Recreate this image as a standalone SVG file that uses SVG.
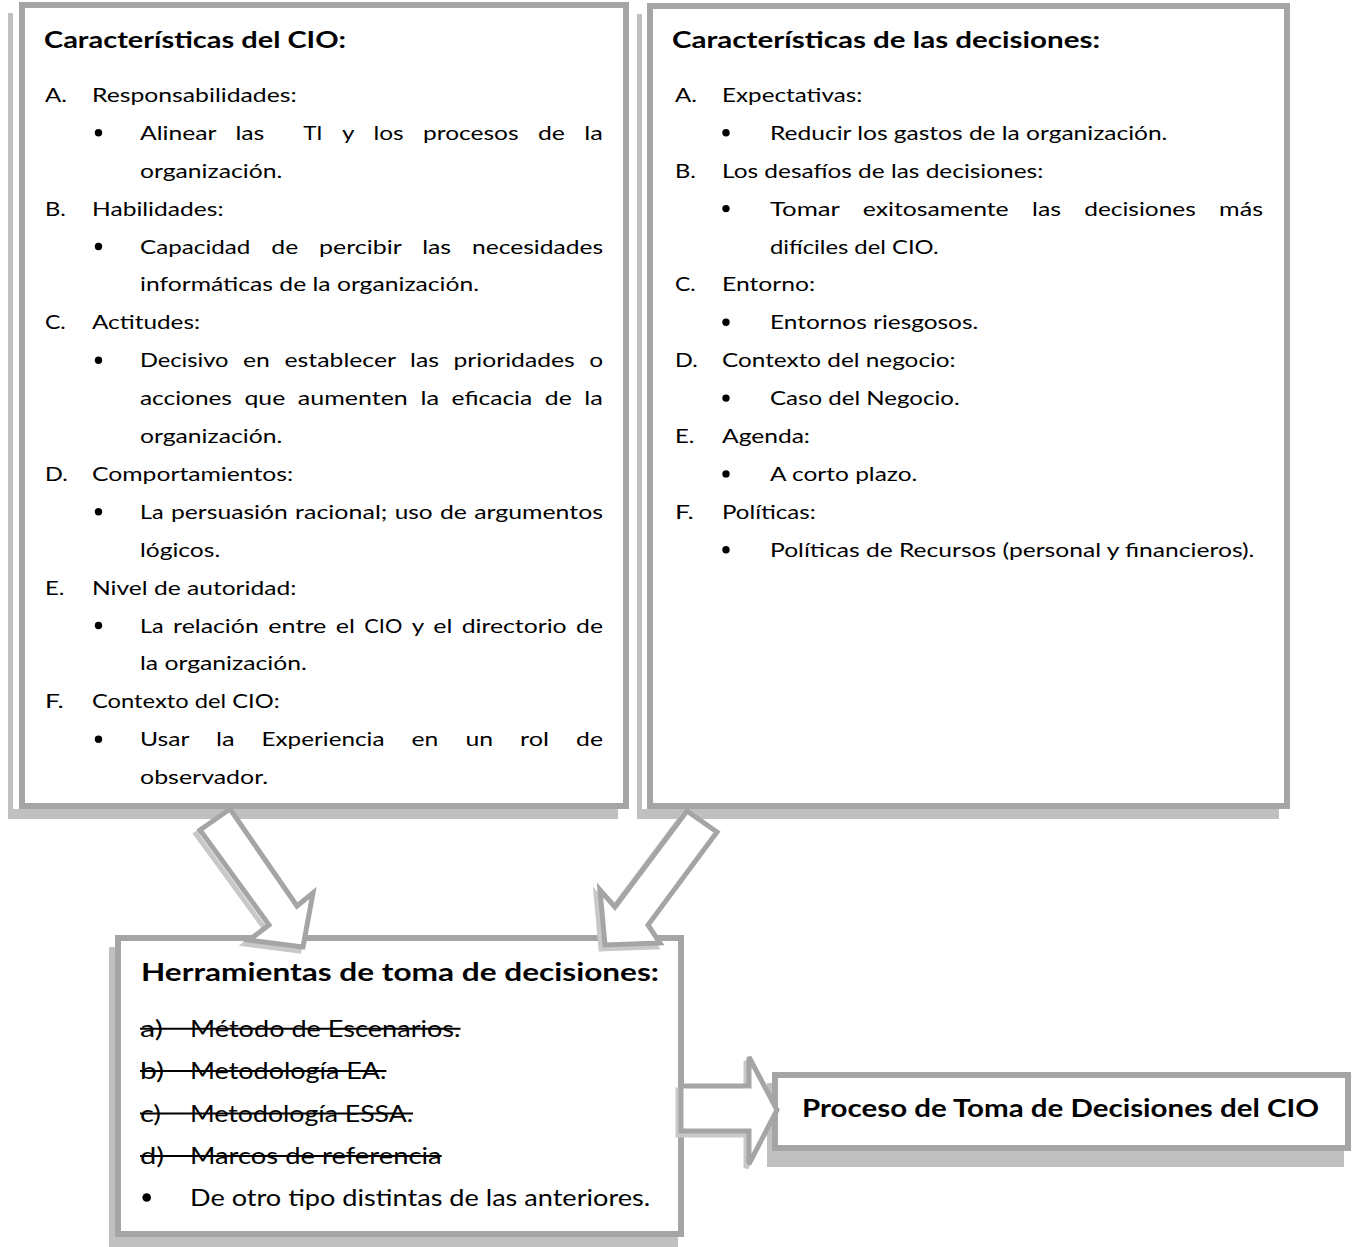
<svg xmlns="http://www.w3.org/2000/svg" width="1356" height="1247" viewBox="0 0 1356 1247">
<style>
.t{font-family:Lato,'Liberation Sans',sans-serif;font-size:20px;fill:#000}
.h{font-weight:bold;font-size:22.5px}
.l{font-size:22.5px}
.lh{font-weight:bold;font-size:24px}
.frame{fill:#fff;stroke:#a5a5a5;stroke-width:6}
.shadow{fill:#c0c0c0}
.arrow{fill:#fff;stroke:#a5a5a5;stroke-width:5;stroke-linejoin:miter}
.ashadow{fill:none;stroke:#c8c8c8;stroke-width:5;stroke-linejoin:miter}
.strike{stroke:#000;stroke-width:2}
.dot{fill:#000}
</style>
<rect width="1356" height="1247" fill="#fff"/>

<g id="node-cio">
<path class="shadow" d="M8 13H13V809H618V819H8Z"/>
<rect class="frame" x="22" y="5" width="604" height="801"/>
<text class="t h" x="44" y="48.3" textLength="302" lengthAdjust="spacingAndGlyphs">Características del CIO:</text>
<text class="t" y="101.9"><tspan x="45" textLength="21.9" lengthAdjust="spacingAndGlyphs">A.</tspan> <tspan x="92" textLength="204.6" lengthAdjust="spacingAndGlyphs">Responsabilidades:</tspan></text>
<circle class="dot" cx="98.5" cy="132.8" r="3.7"/>
<text class="t" y="139.8"><tspan x="140" textLength="75.96" lengthAdjust="spacingAndGlyphs">Alinear</tspan> <tspan x="235.4" textLength="28.92" lengthAdjust="spacingAndGlyphs">las</tspan>  <tspan x="303.2" textLength="19.44" lengthAdjust="spacingAndGlyphs">TI</tspan> <tspan x="342.1" textLength="11.9" lengthAdjust="spacingAndGlyphs">y</tspan> <tspan x="373.4" textLength="30.19" lengthAdjust="spacingAndGlyphs">los</tspan> <tspan x="423" textLength="95.5" lengthAdjust="spacingAndGlyphs">procesos</tspan> <tspan x="538" textLength="26.9" lengthAdjust="spacingAndGlyphs">de</tspan> <tspan x="584.3" textLength="18.63" lengthAdjust="spacingAndGlyphs">la</tspan></text>
<text class="t" x="140" y="177.7" textLength="142.3" lengthAdjust="spacingAndGlyphs">organización.</text>
<text class="t" y="215.6"><tspan x="45" textLength="20.9" lengthAdjust="spacingAndGlyphs">B.</tspan> <tspan x="92" textLength="131.6" lengthAdjust="spacingAndGlyphs">Habilidades:</tspan></text>
<circle class="dot" cx="98.5" cy="246.5" r="3.7"/>
<text class="t" y="253.5"><tspan x="140" textLength="110.41" lengthAdjust="spacingAndGlyphs">Capacidad</tspan> <tspan x="271.3" textLength="26.9" lengthAdjust="spacingAndGlyphs">de</tspan> <tspan x="319.1" textLength="82.25" lengthAdjust="spacingAndGlyphs">percibir</tspan> <tspan x="422.2" textLength="28.92" lengthAdjust="spacingAndGlyphs">las</tspan> <tspan x="472" textLength="131.04" lengthAdjust="spacingAndGlyphs">necesidades</tspan></text>
<text class="t" x="140" y="291.4" textLength="339.1" lengthAdjust="spacingAndGlyphs">informáticas de la organización.</text>
<text class="t" y="329.3"><tspan x="45" textLength="20.7" lengthAdjust="spacingAndGlyphs">C.</tspan> <tspan x="92" textLength="108" lengthAdjust="spacingAndGlyphs">Actitudes:</tspan></text>
<circle class="dot" cx="98.5" cy="360.2" r="3.7"/>
<text class="t" y="367.2"><tspan x="140" textLength="88.49" lengthAdjust="spacingAndGlyphs">Decisivo</tspan> <tspan x="243" textLength="26.9" lengthAdjust="spacingAndGlyphs">en</tspan> <tspan x="284.5" textLength="111.1" lengthAdjust="spacingAndGlyphs">establecer</tspan> <tspan x="410.1" textLength="28.92" lengthAdjust="spacingAndGlyphs">las</tspan> <tspan x="453.5" textLength="121.16" lengthAdjust="spacingAndGlyphs">prioridades</tspan> <tspan x="589.2" textLength="13.87" lengthAdjust="spacingAndGlyphs">o</tspan></text>
<text class="t" y="405.1"><tspan x="140" textLength="91.94" lengthAdjust="spacingAndGlyphs">acciones</tspan> <tspan x="244.5" textLength="40.72" lengthAdjust="spacingAndGlyphs">que</tspan> <tspan x="297.8" textLength="110.04" lengthAdjust="spacingAndGlyphs">aumenten</tspan> <tspan x="420.4" textLength="18.63" lengthAdjust="spacingAndGlyphs">la</tspan> <tspan x="451.6" textLength="80.63" lengthAdjust="spacingAndGlyphs">eficacia</tspan> <tspan x="544.8" textLength="26.9" lengthAdjust="spacingAndGlyphs">de</tspan> <tspan x="584.3" textLength="18.63" lengthAdjust="spacingAndGlyphs">la</tspan></text>
<text class="t" x="140" y="443" textLength="142.3" lengthAdjust="spacingAndGlyphs">organización.</text>
<text class="t" y="480.9"><tspan x="45" textLength="22.8" lengthAdjust="spacingAndGlyphs">D.</tspan> <tspan x="92" textLength="201.1" lengthAdjust="spacingAndGlyphs">Comportamientos:</tspan></text>
<circle class="dot" cx="98.5" cy="511.8" r="3.7"/>
<text class="t" y="518.8"><tspan x="140" textLength="23.65" lengthAdjust="spacingAndGlyphs">La</tspan> <tspan x="171" textLength="116.76" lengthAdjust="spacingAndGlyphs">persuasión</tspan> <tspan x="295.1" textLength="92.28" lengthAdjust="spacingAndGlyphs">racional;</tspan> <tspan x="394.7" textLength="37.97" lengthAdjust="spacingAndGlyphs">uso</tspan> <tspan x="440" textLength="26.9" lengthAdjust="spacingAndGlyphs">de</tspan> <tspan x="474.2" textLength="128.84" lengthAdjust="spacingAndGlyphs">argumentos</tspan></text>
<text class="t" x="140" y="556.7" textLength="80.2" lengthAdjust="spacingAndGlyphs">lógicos.</text>
<text class="t" y="594.6"><tspan x="45" textLength="19.5" lengthAdjust="spacingAndGlyphs">E.</tspan> <tspan x="92" textLength="204.4" lengthAdjust="spacingAndGlyphs">Nivel de autoridad:</tspan></text>
<circle class="dot" cx="98.5" cy="625.5" r="3.7"/>
<text class="t" y="632.5"><tspan x="140" textLength="23.65" lengthAdjust="spacingAndGlyphs">La</tspan> <tspan x="173.1" textLength="85.73" lengthAdjust="spacingAndGlyphs">relación</tspan> <tspan x="268.3" textLength="57.97" lengthAdjust="spacingAndGlyphs">entre</tspan> <tspan x="335.7" textLength="19.12" lengthAdjust="spacingAndGlyphs">el</tspan> <tspan x="364.3" textLength="38.06" lengthAdjust="spacingAndGlyphs">CIO</tspan> <tspan x="411.8" textLength="11.9" lengthAdjust="spacingAndGlyphs">y</tspan> <tspan x="433.2" textLength="19.12" lengthAdjust="spacingAndGlyphs">el</tspan> <tspan x="461.7" textLength="104.98" lengthAdjust="spacingAndGlyphs">directorio</tspan> <tspan x="576.1" textLength="26.9" lengthAdjust="spacingAndGlyphs">de</tspan></text>
<text class="t" x="140" y="670.4" textLength="166.9" lengthAdjust="spacingAndGlyphs">la organización.</text>
<text class="t" y="708.3"><tspan x="45" textLength="18.7" lengthAdjust="spacingAndGlyphs">F.</tspan> <tspan x="92" textLength="187.6" lengthAdjust="spacingAndGlyphs">Contexto del CIO:</tspan></text>
<circle class="dot" cx="98.5" cy="739.2" r="3.7"/>
<text class="t" y="746.2"><tspan x="140" textLength="48.93" lengthAdjust="spacingAndGlyphs">Usar</tspan> <tspan x="215.9" textLength="18.63" lengthAdjust="spacingAndGlyphs">la</tspan> <tspan x="261.5" textLength="123" lengthAdjust="spacingAndGlyphs">Experiencia</tspan> <tspan x="411.5" textLength="26.9" lengthAdjust="spacingAndGlyphs">en</tspan> <tspan x="465.4" textLength="27.64" lengthAdjust="spacingAndGlyphs">un</tspan> <tspan x="520" textLength="29.07" lengthAdjust="spacingAndGlyphs">rol</tspan> <tspan x="576.1" textLength="26.9" lengthAdjust="spacingAndGlyphs">de</tspan></text>
<text class="t" x="140" y="784.1" textLength="128.2" lengthAdjust="spacingAndGlyphs">observador.</text>
</g>

<g id="node-decisiones">
<path class="shadow" d="M637 14H642V809H1279V819H637Z"/>
<rect class="frame" x="650" y="6" width="637" height="800"/>
<text class="t h" x="672" y="48.3" textLength="428" lengthAdjust="spacingAndGlyphs">Características de las decisiones:</text>
<text class="t" y="101.9"><tspan x="675" textLength="21.9" lengthAdjust="spacingAndGlyphs">A.</tspan> <tspan x="722" textLength="140.3" lengthAdjust="spacingAndGlyphs">Expectativas:</tspan></text>
<circle class="dot" cx="726" cy="132.8" r="3.7"/>
<text class="t" x="770" y="139.8" textLength="397.4" lengthAdjust="spacingAndGlyphs">Reducir los gastos de la organización.</text>
<text class="t" y="177.7"><tspan x="675" textLength="20.9" lengthAdjust="spacingAndGlyphs">B.</tspan> <tspan x="722" textLength="321.3" lengthAdjust="spacingAndGlyphs">Los desafíos de las decisiones:</tspan></text>
<circle class="dot" cx="726" cy="208.6" r="3.7"/>
<text class="t" y="215.6"><tspan x="770" textLength="69.46" lengthAdjust="spacingAndGlyphs">Tomar</tspan> <tspan x="862.8" textLength="145.88" lengthAdjust="spacingAndGlyphs">exitosamente</tspan> <tspan x="1032.1" textLength="28.92" lengthAdjust="spacingAndGlyphs">las</tspan> <tspan x="1084.3" textLength="111.44" lengthAdjust="spacingAndGlyphs">decisiones</tspan> <tspan x="1219.1" textLength="43.89" lengthAdjust="spacingAndGlyphs">más</tspan></text>
<text class="t" x="770" y="253.5" textLength="168.7" lengthAdjust="spacingAndGlyphs">difíciles del CIO.</text>
<text class="t" y="291.4"><tspan x="675" textLength="20.7" lengthAdjust="spacingAndGlyphs">C.</tspan> <tspan x="722" textLength="93.2" lengthAdjust="spacingAndGlyphs">Entorno:</tspan></text>
<circle class="dot" cx="726" cy="322.3" r="3.7"/>
<text class="t" x="770" y="329.3" textLength="208.3" lengthAdjust="spacingAndGlyphs">Entornos riesgosos.</text>
<text class="t" y="367.2"><tspan x="675" textLength="22.8" lengthAdjust="spacingAndGlyphs">D.</tspan> <tspan x="722" textLength="233.7" lengthAdjust="spacingAndGlyphs">Contexto del negocio:</tspan></text>
<circle class="dot" cx="726" cy="398.1" r="3.7"/>
<text class="t" x="770" y="405.1" textLength="189.6" lengthAdjust="spacingAndGlyphs">Caso del Negocio.</text>
<text class="t" y="443"><tspan x="675" textLength="19.5" lengthAdjust="spacingAndGlyphs">E.</tspan> <tspan x="722" textLength="88" lengthAdjust="spacingAndGlyphs">Agenda:</tspan></text>
<circle class="dot" cx="726" cy="473.9" r="3.7"/>
<text class="t" x="770" y="480.9" textLength="147.3" lengthAdjust="spacingAndGlyphs">A corto plazo.</text>
<text class="t" y="518.8"><tspan x="675" textLength="18.7" lengthAdjust="spacingAndGlyphs">F.</tspan> <tspan x="722" textLength="93.8" lengthAdjust="spacingAndGlyphs">Políticas:</tspan></text>
<circle class="dot" cx="726" cy="549.7" r="3.7"/>
<text class="t" x="770" y="556.7" textLength="484.4" lengthAdjust="spacingAndGlyphs">Políticas de Recursos (personal y financieros).</text>
</g>

<g id="node-herramientas">
<path class="shadow" d="M109 947H115V1237H678V1247H109Z"/>
<rect class="frame" x="118" y="938" width="563" height="296"/>
<text class="t lh" x="141" y="981" textLength="518" lengthAdjust="spacingAndGlyphs">Herramientas de toma de decisiones:</text>
<text class="t l" y="1036.7"><tspan x="140" textLength="22.8" lengthAdjust="spacingAndGlyphs">a)</tspan> <tspan x="190" textLength="270.5" lengthAdjust="spacingAndGlyphs">Método de Escenarios.</tspan></text>
<line class="strike" x1="140" y1="1028.7" x2="460.5" y2="1028.7"/>
<text class="t l" y="1079.1"><tspan x="140" textLength="24.1" lengthAdjust="spacingAndGlyphs">b)</tspan> <tspan x="190" textLength="196.4" lengthAdjust="spacingAndGlyphs">Metodología EA.</tspan></text>
<line class="strike" x1="140" y1="1071.1" x2="386.4" y2="1071.1"/>
<text class="t l" y="1121.5"><tspan x="140" textLength="21.1" lengthAdjust="spacingAndGlyphs">c)</tspan> <tspan x="190" textLength="223.1" lengthAdjust="spacingAndGlyphs">Metodología ESSA.</tspan></text>
<line class="strike" x1="140" y1="1113.5" x2="413.1" y2="1113.5"/>
<text class="t l" y="1163.9"><tspan x="140" textLength="24.1" lengthAdjust="spacingAndGlyphs">d)</tspan> <tspan x="190" textLength="251.7" lengthAdjust="spacingAndGlyphs">Marcos de referencia</tspan></text>
<line class="strike" x1="140" y1="1155.9" x2="441.7" y2="1155.9"/>
<circle class="dot" cx="146.7" cy="1197.5" r="4.3"/>
<text class="t l" x="190" y="1206.3" textLength="460.2" lengthAdjust="spacingAndGlyphs">De otro tipo distintas de las anteriores.</text>
</g>

<g id="node-proceso">
<path class="shadow" d="M767 1083H772V1150H1344V1167H767Z"/>
<rect class="frame" x="775" y="1075" width="573" height="73"/>
<text class="t lh" x="802" y="1117" textLength="517" lengthAdjust="spacingAndGlyphs">Proceso de Toma de Decisiones del CIO</text>
</g>

<g id="connectors">
<polygon class="ashadow" transform="translate(-4 4)" points="230,809 297,906 313,893 303,947 249,940 269,925 200,830"/>
<polygon class="arrow" points="230,809 297,906 313,893 303,947 249,940 269,925 200,830"/>
<polygon class="ashadow" transform="translate(-4 4)" points="687,811 717,832 648,925 660,943 605,945 600,890 615,907"/>
<polygon class="arrow" points="687,811 717,832 648,925 660,943 605,945 600,890 615,907"/>
<polygon class="ashadow" transform="translate(-3 4)" points="681,1086 749,1086 749,1057 777,1110 749,1164 749,1131 681,1131"/>
<polygon class="arrow" points="681,1086 749,1086 749,1057 777,1110 749,1164 749,1131 681,1131"/>
</g>
</svg>
